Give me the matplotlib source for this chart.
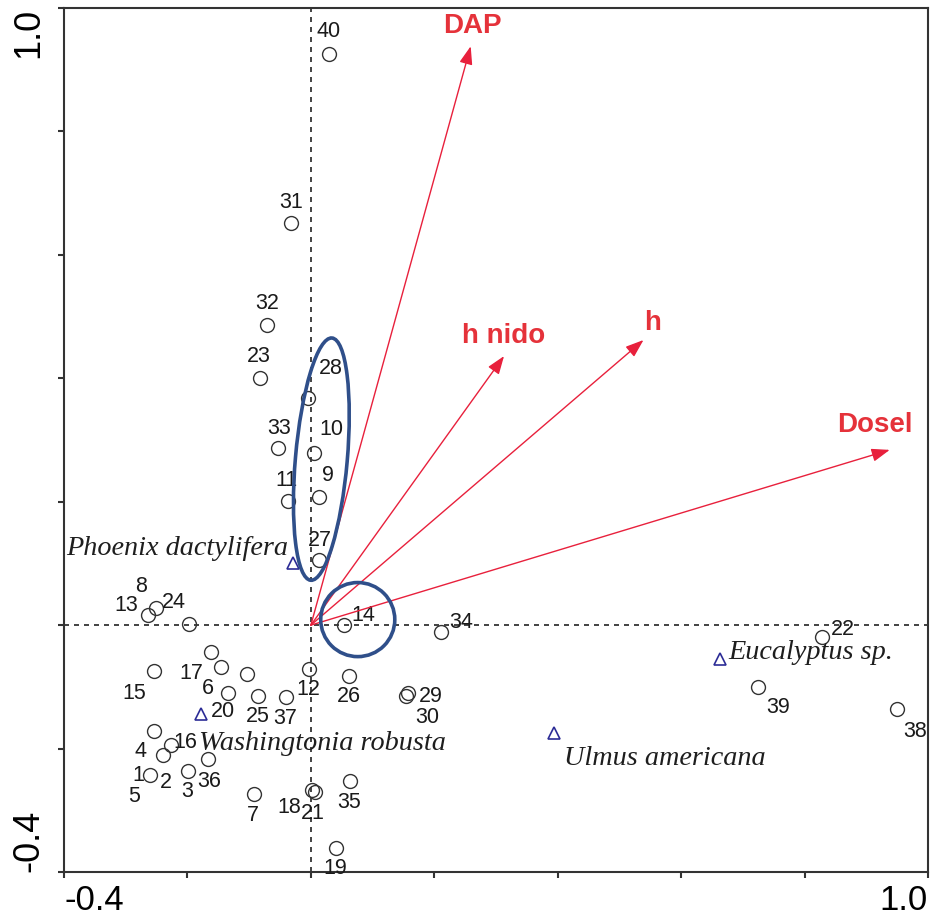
import matplotlib
matplotlib.use("Agg")
import matplotlib.pyplot as plt
from matplotlib.patches import Ellipse, Circle

# site scores (axis 1, axis 2)
site_ids = ['40', '31', '32', '23', '28', '33', '10', '9', '11', '27',
            '13', '8', '24', '14', '34', '22', '39', '38', '26', '29',
            '30', '35', '19', '15', '17', '6', '20', '25', '37', '12',
            '16', '4', '2', '1', '36', '5', '3', '7', '18', '21']
site_x = [0.029, -0.032, -0.071, -0.083, -0.005, -0.053, 0.005, 0.013, -0.037, 0.013,
          -0.264, -0.251, -0.198, 0.053, 0.211, 0.829, 0.724, 0.949, 0.062, 0.157,
          0.154, 0.063, 0.041, -0.254, -0.162, -0.146, -0.134, -0.086, -0.041, -0.003,
          -0.104, -0.254, -0.227, -0.240, -0.167, -0.261, -0.199, -0.092, 0.002, 0.006]
site_y = [0.925, 0.651, 0.486, 0.400, 0.368, 0.287, 0.279, 0.207, 0.201, 0.105,
          0.016, 0.028, 0.002, 0.000, -0.011, -0.019, -0.100, -0.136, -0.083, -0.110,
          -0.115, -0.253, -0.361, -0.075, -0.044, -0.068, -0.110, -0.115, -0.117, -0.071,
          -0.079, -0.172, -0.194, -0.211, -0.217, -0.243, -0.237, -0.274, -0.267, -0.271]

# species scores
species = ['Phoenix dactylifera', 'Washingtonia robusta', 'Ulmus americana', 'Eucalyptus sp.']
species_x = [-0.029, -0.178, 0.394, 0.663]
species_y = [0.100, -0.144, -0.175, -0.055]

# environmental variables (arrow tips)
env_names = ['DAP', 'h nido', 'h', 'Dosel']
env_x = [0.259, 0.313, 0.539, 0.938]
env_y = [0.938, 0.436, 0.462, 0.284]

# label offsets in pixels (dx right, dy down)
site_offsets = {
    '40': (0, -23), '31': (0, -21), '32': (0, -22), '23': (-1, -22), '28': (23, -30),
    '33': (1, -20), '10': (17, -23), '9': (9, -22), '11': (-2, -21), '27': (1, -20),
    '13': (-22, -10), '8': (-15, -21), '24': (-15, -21), '14': (20, -10), '34': (20, -9),
    '22': (20, -7), '39': (20, 21), '38': (19, 22), '26': (0, 20), '29': (23, 3),
    '30': (21, 21), '35': (-1, 21), '19': (-1, 21), '15': (-20, 22), '17': (-20, 21),
    '6': (-13, 21), '20': (-5, 18), '25': (0, 20), '37': (0, 21), '12': (-1, 21),
    '16': (-61, 69), '4': (-14, 20), '2': (-5, 38), '1': (-24, 20), '36': (1, 22),
    '5': (-16, 21), '3': (-1, 20), '7': (-1, 21), '18': (-23, 18), '21': (-2, 21),
}
species_offsets = [(-5, -8, 'right'), (-2, 36, 'left'), (10, 32, 'left'), (8, 0, 'left')]
env_offsets = [(2, -20), (0, -20), (9, -17), (-15, -25)]

PX = 72 / 100.0  # pixels -> points at dpi 100

red = '#e8203c'
navy = '#2c2c96'
ring = '#2f4f8a'

fig = plt.figure(figsize=(9.3, 9.24), dpi=100)
ax = fig.add_axes([64 / 930, 1 - 872 / 924, 864 / 930, 864 / 924])
ax.set_xlim(-0.4, 1.0)
ax.set_ylim(-0.4, 1.0)

ax.axhline(0, color='#222222', lw=1.2, ls=(0, (3, 3)), zorder=1)
ax.axvline(0, color='#222222', lw=1.2, ls=(0, (3, 3)), zorder=1)

# sites
ax.plot(site_x, site_y, 'o', ms=10, mfc='none', mec='#333333', mew=1.0, zorder=3)
for sid, x, y in zip(site_ids, site_x, site_y):
    dx, dy = site_offsets[sid]
    ax.annotate(sid, (x, y), xytext=(dx * PX, -dy * PX), textcoords='offset points',
                ha='center', va='center', fontsize=15.5, family='Liberation Sans',
                color='#1a1a1a', zorder=4)

# species
ax.plot(species_x, species_y, '^', ms=8, mfc='none', mec=navy, mew=1.2, zorder=3)
for name, x, y, (dx, dy, ha) in zip(species, species_x, species_y, species_offsets):
    ax.annotate(name, (x, y), xytext=(dx * PX, -dy * PX), textcoords='offset points',
                ha=ha, va='baseline', fontsize=20.3, family='Liberation Serif',
                style='italic', color='#1e1e1e', zorder=4)

# environmental arrows
for name, x, y, (dx, dy) in zip(env_names, env_x, env_y, env_offsets):
    ax.annotate('', xy=(x, y), xytext=(0, 0),
                arrowprops=dict(arrowstyle='-|>,head_length=0.55,head_width=0.2',
                                mutation_scale=20, color=red, lw=1.0,
                                shrinkA=0, shrinkB=0), zorder=5)
    ax.annotate(name, (x, y), xytext=(dx * PX, -dy * PX), textcoords='offset points',
                ha='center', va='center', fontsize=20, family='Liberation Sans',
                weight='bold', color='#e5323a', zorder=5)

# highlighted groups
ax.add_patch(Ellipse((0.017, 0.269), 0.084, 0.394, angle=-5, fill=False,
                     ec=ring, lw=2.6, zorder=6))
ax.add_patch(Circle((0.076, 0.009), 0.060, fill=False, ec=ring, lw=2.6, zorder=6))

# axes frame and ticks
for s in ax.spines.values():
    s.set_color('#333333')
    s.set_linewidth(1.5)

ticks = [-0.4, -0.2, 0.0, 0.2, 0.4, 0.6, 0.8, 1.0]
tick_labels = ['-0.4', '', '', '', '', '', '', '1.0']
ax.set_xticks(ticks)
ax.set_xticklabels(tick_labels, fontsize=25, family='Liberation Sans')
ax.set_yticks(ticks)
ax.set_yticklabels(tick_labels, fontsize=26, family='Liberation Sans', rotation=90)
ax.tick_params(direction='out', length=4.5, width=1.5, color='#333333')
ax.tick_params(axis='x', pad=4)
ax.tick_params(axis='y', pad=8)

xl = ax.get_xticklabels()
xl[0].set_ha('left')
xl[-1].set_ha('right')
yl = ax.get_yticklabels()
yl[0].set_va('bottom')
yl[-1].set_va('top')

plt.savefig('out.png', dpi=100)
